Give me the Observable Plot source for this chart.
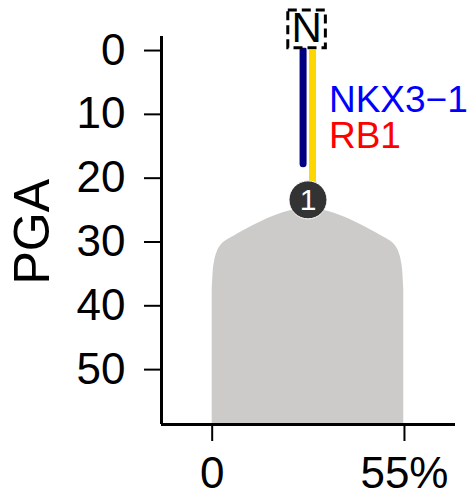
<!DOCTYPE html>
<html>
<head>
<meta charset="utf-8">
<script src="https://cdn.jsdelivr.net/npm/d3@7"></script>
<script src="https://cdn.jsdelivr.net/npm/@observablehq/plot@0.6"></script>
<style>
  html, body { margin: 0; padding: 0; background: #fff; }
  #chart { width: 474px; height: 496px; }
</style>
</head>
<body>
<div id="chart"></div>
<script>
// ---- data ----
const yTicks = [0, 10, 20, 30, 40, 50];
const xTicks = [0, 55];
const xTickLabels = ["0", "55%"];
const yLabel = "PGA";

// gray population shape (x = % cells, top = PGA where it begins)
const shapeX   = [0, 0.3, 0.7, 1.4, 2.4, 4.3, 6.2, 27.4, 48.6, 50.5, 52.4, 53.4, 54.1, 54.5, 54.8];
const shapeTop = [37.5, 34.6, 33.0, 31.6, 30.6, 29.7, 29.1, 24.8, 29.1, 29.7, 30.6, 31.6, 33.0, 34.6, 37.5];

// tracks (gene events)
const trackGenes = ["NKX3−1", "RB1"];
const trackX     = [26.0, 28.7];
const trackStart = [0, 0];
const trackEnd   = [17.8, 22.5];

// clone node
const nodeLabel = "1";
const nodeX = 27.4, nodeY = 23.4;
// root node
const rootLabel = "N";
const rootX = 27.0, rootY = -3.4;

// gene label positions
const geneLabelX = [33.4, 33.4];
const geneLabelY = [9.7, 15.2];

// ---- build ----
const xDomain = [-14.5, 69.6];
const yDomain = [-2.2, 58.6];
const shape = shapeX.map((x, i) => ({x, top: shapeTop[i]}));
const tracks = trackGenes.map((g, i) => ({gene: g, x: trackX[i], y1: trackStart[i], y2: trackEnd[i]}));
const trackColors = {"NKX3−1": "#000080", "RB1": "#FFD700"};
const labelColors = {"NKX3−1": "#0000FF", "RB1": "#FF0000"};
const labels = trackGenes.map((g, i) => ({gene: g, x: geneLabelX[i], y: geneLabelY[i]}));

const font = "'Liberation Sans', Arial, Helvetica, sans-serif";

const chart = Plot.plot({
  width: 474,
  height: 496,
  marginLeft: 161,
  marginRight: 19,
  marginTop: 36,
  marginBottom: 72,
  style: {fontFamily: font, fontSize: "44px", background: "white", color: "black", overflow: "visible"},
  x: {domain: xDomain},
  y: {domain: yDomain, reverse: true},
  marks: [
    Plot.areaY(shape, {x: "x", y1: "top", y2: () => yDomain[1], fill: "#cccbc9", curve: "monotone-x"}),
    // tracks
    ...tracks.map(t => Plot.ruleX([t], {x: "x", y1: "y1", y2: "y2", stroke: trackColors[t.gene], strokeWidth: 7, strokeLinecap: t.gene === "RB1" ? "butt" : "round"})),
    // clone node
    Plot.dot([{x: nodeX, y: nodeY}], {x: "x", y: "y", r: 19, fill: "#333333", stroke: "white", strokeWidth: 1}),
    Plot.text([{x: nodeX, y: nodeY}], {x: "x", y: "y", text: () => nodeLabel, fill: "white", fontSize: 30, dy: 1}),
    // root node
    Plot.dot([{x: rootX, y: rootY}], {x: "x", y: "y", symbol: "square", r: 21.2, fill: "white", stroke: "black", strokeWidth: 3, strokeDasharray: "9,5"}),
    Plot.text([{x: rootX, y: rootY}], {x: "x", y: "y", text: () => rootLabel, fill: "black", fontSize: 42}),
    // gene labels
    Plot.text(labels, {x: "x", y: "y", text: "gene", fill: d => labelColors[d.gene], fontSize: 37, textAnchor: "start", lineAnchor: "bottom"}),
    // axes
    Plot.axisY(yTicks, {tickSize: 17, tickPadding: 19, strokeWidth: 2, fontSize: 44, label: null}),
    Plot.axisX(xTicks, {tickSize: 17, tickPadding: 15, strokeWidth: 2, fontSize: 44, label: null, tickFormat: d => xTickLabels[xTicks.indexOf(d)]}),
    Plot.text([yLabel], {frameAnchor: "left", rotate: -90, lineAnchor: "top", dx: -148, dy: 54, fontSize: 50, fill: "black"}),
    Plot.ruleX([xDomain[0]], {stroke: "black", strokeWidth: 3}),
    Plot.ruleY([yDomain[1]], {stroke: "black", strokeWidth: 3})
  ]
});
document.getElementById("chart").appendChild(chart);
</script>
</body>
</html>
